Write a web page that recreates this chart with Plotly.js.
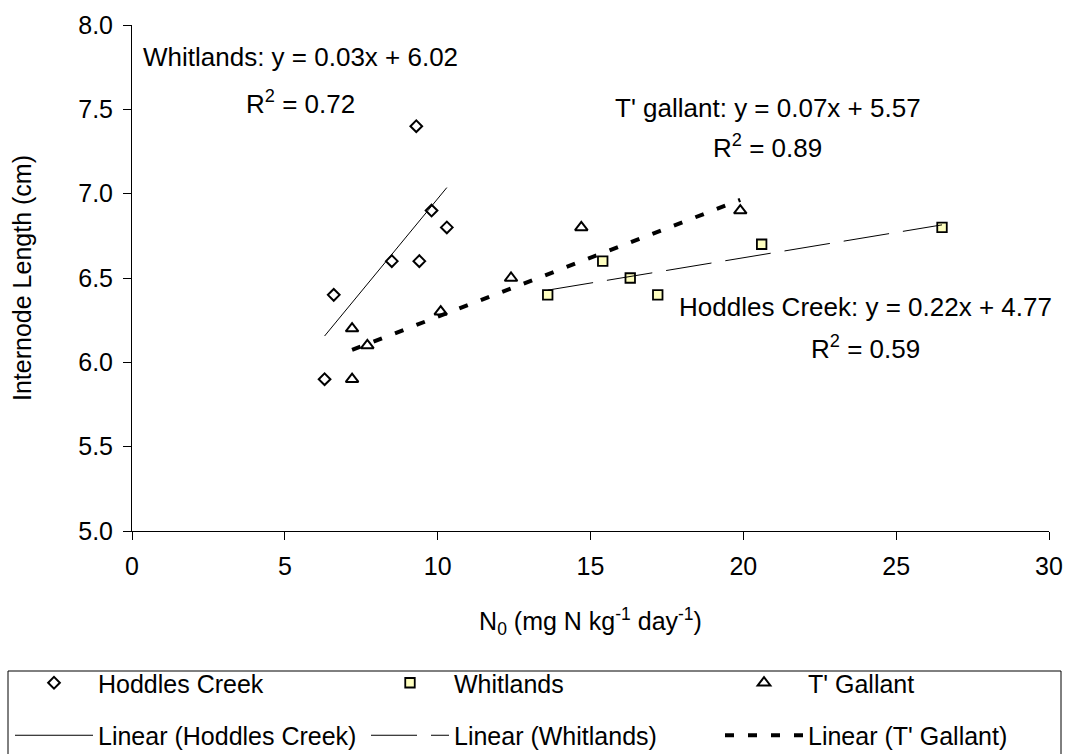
<!DOCTYPE html>
<html><head><meta charset="utf-8">
<script src="https://cdn.plot.ly/plotly-3.0.1.min.js"></script>
<style>html,body{margin:0;padding:0;background:#fff}#chart{width:1068px;height:754px}</style>
</head><body><div id="chart"></div><script>
// ---- data ----
const seriesNames = ["Hoddles Creek", "Whitlands", "T' Gallant"];
const hoddlesX = [6.3, 6.6, 8.5, 9.3, 9.4, 9.8, 10.3];
const hoddlesY = [5.9, 6.4, 6.6, 7.4, 6.6, 6.9, 6.8];
const whitlandsX = [13.6, 15.4, 16.3, 17.2, 20.6, 26.5];
const whitlandsY = [6.4, 6.6, 6.5, 6.4, 6.7, 6.8];
const gallantX = [7.2, 7.2, 7.7, 10.1, 12.4, 14.7, 19.9];
const gallantY = [6.2, 5.9, 6.1, 6.3, 6.5, 6.8, 6.9];
// linear trend lines (slope, intercept) as printed on the chart
const trendSlopes = [0.22, 0.03, 0.07];
const trendIntercepts = [4.77, 6.02, 5.57];
const xTicks = [0, 5, 10, 15, 20, 25, 30];
const yTicks = [5.0, 5.5, 6.0, 6.5, 7.0, 7.5, 8.0];
const xTitle = 'N<sub>0</sub> (mg N kg<sup>-1</sup> day<sup>-1</sup>)';
const yTitle = 'Internode Length (cm)';
const eqLines = ["Whitlands: y = 0.03x + 6.02", "T' gallant: y = 0.07x + 5.57", "Hoddles Creek: y = 0.22x + 4.77"];
const r2Values = ["0.72", "0.89", "0.59"];

const FONT = "Liberation Sans, Arial, sans-serif";
const FS = 25;
const AFS = 26;
const W = 1068, H = 754;
const M = {l: 132, r: 19, t: 25, b: 223, autoexpand: false};
const PW = W - M.l - M.r, PH = H - M.t - M.b;

function trend(xs, i) {
  const lo = Math.min(...xs), hi = Math.max(...xs);
  return {x: [lo, hi], y: [trendSlopes[i] * lo + trendIntercepts[i], trendSlopes[i] * hi + trendIntercepts[i]]};
}
const tH = trend(hoddlesX, 0), tW = trend(whitlandsX, 1), tG = trend(gallantX, 2);

const traces = [
  {x: hoddlesX, y: hoddlesY, mode: 'markers', type: 'scatter', name: seriesNames[0],
   legend: 'legend', legendgroup: 'a1',
   marker: {symbol: 'diamond-open', size: 9, color: '#000', line: {width: 2, color: '#000'}}},
  {x: whitlandsX, y: whitlandsY, mode: 'markers', type: 'scatter', name: seriesNames[1],
   legend: 'legend2', legendgroup: 'b1',
   marker: {symbol: 'square', size: 9.5, color: '#FFFFC0', line: {width: 1.8, color: '#000'}}},
  {x: gallantX, y: gallantY, mode: 'markers', type: 'scatter', name: seriesNames[2],
   legend: 'legend3', legendgroup: 'c1',
   marker: {symbol: 'triangle-up-open', size: 11, color: '#000', line: {width: 2, color: '#000'}}},
  {x: tH.x, y: tH.y, mode: 'lines', type: 'scatter', name: 'Linear (' + seriesNames[0] + ')',
   legend: 'legend', legendgroup: 'a2',
   line: {color: '#000', width: 1}},
  {x: tW.x, y: tW.y, mode: 'lines', type: 'scatter', name: 'Linear (' + seriesNames[1] + ')',
   legend: 'legend2', legendgroup: 'b2',
   line: {color: '#000', width: 1, dash: '46px,14px'}},
  {x: tG.x, y: tG.y, mode: 'lines', type: 'scatter', name: 'Linear (' + seriesNames[2] + ')',
   legend: 'legend3', legendgroup: 'c2',
   line: {color: '#000', width: 4, dash: '9px,14px'}}
];

// equation labels: [centre x, line-1 y, line-2 y] in data units
const eqPos = [[5.5, 7.81, 7.54], [20.8, 7.51, 7.28], [24.0, 6.33, 6.09]];
const annotations = [];
eqLines.forEach((t, i) => {
  annotations.push({text: t, x: eqPos[i][0], y: eqPos[i][1], xref: 'x', yref: 'y', showarrow: false,
    xanchor: 'center', yanchor: 'middle', font: {family: FONT, size: AFS}});
  annotations.push({text: 'R<sup>2</sup> = ' + r2Values[i], x: eqPos[i][0], y: eqPos[i][2], xref: 'x', yref: 'y', showarrow: false,
    xanchor: 'center', yanchor: 'middle', font: {family: FONT, size: AFS}});
});
// y-axis title (rotated), placed left of the tick labels
annotations.push({text: yTitle, textangle: -90, xref: 'paper', yref: 'paper',
  x: (22 - M.l) / PW, y: 0.5, xanchor: 'center', yanchor: 'middle', showarrow: false,
  font: {family: FONT, size: FS}});

function legendAt(px) {
  return {
    orientation: 'v', xref: 'container', yref: 'container',
    x: px / W, y: 1 - 660 / H, xanchor: 'left', yanchor: 'top',
    borderwidth: 0, bgcolor: 'rgba(0,0,0,0)',
    font: {family: FONT, size: FS, color: '#000'}, itemwidth: 78,
    traceorder: 'grouped', tracegroupgap: 17
  };
}

// legend frame (paper coordinates, reaches below the bottom edge like the reference)
const frame = {
  type: 'rect', xref: 'paper', yref: 'paper', layer: 'above',
  x0: (8 - M.l) / PW, x1: (1061 - M.l) / PW,
  y0: (H - M.b - 671) / PH, y1: (H - M.b - 790) / PH,
  line: {color: '#000', width: 1}, fillcolor: 'rgba(0,0,0,0)'
};

const layout = {
  width: W, height: H,
  paper_bgcolor: '#fff', plot_bgcolor: '#fff',
  margin: M,
  font: {family: FONT, size: FS, color: '#000'},
  showlegend: true,
  xaxis: {
    range: [0, 30], tickvals: xTicks, ticktext: xTicks.map(String),
    showgrid: false, zeroline: false, showline: true, linecolor: '#000', linewidth: 1,
    ticks: 'outside', ticklen: 8, tickcolor: '#000', tickwidth: 1,
    tickfont: {family: FONT, size: FS}, ticklabelstandoff: 5,
    title: {text: xTitle, font: {family: FONT, size: FS}, standoff: 33},
    automargin: false
  },
  yaxis: {
    range: [5, 8], tickvals: yTicks, ticktext: yTicks.map(v => v.toFixed(1)),
    showgrid: false, zeroline: false, showline: true, linecolor: '#000', linewidth: 1,
    ticks: 'outside', ticklen: 8, tickcolor: '#000', tickwidth: 1,
    tickfont: {family: FONT, size: FS}, ticklabelstandoff: 5,
    automargin: false
  },
  legend: legendAt(10),
  legend2: legendAt(366),
  legend3: legendAt(720),
  shapes: [frame],
  annotations: annotations
};

Plotly.newPlot('chart', traces, layout, {displayModeBar: false, staticPlot: true});
</script></body></html>
